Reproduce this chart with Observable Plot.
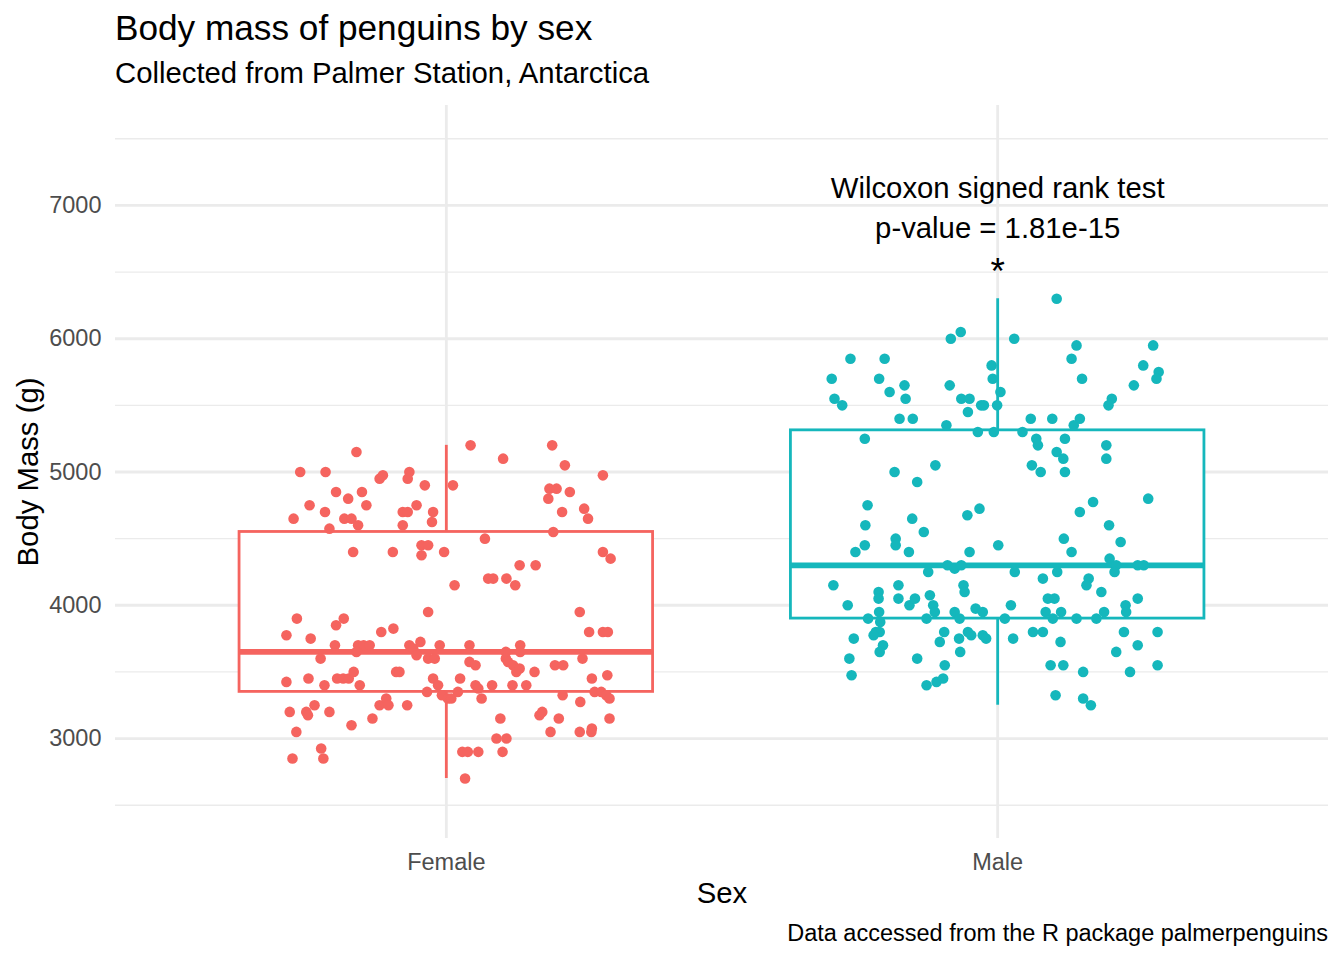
<!DOCTYPE html>
<html>
<head>
<meta charset="utf-8">
<script src="https://cdn.jsdelivr.net/npm/d3@7"></script>
<script src="https://cdn.jsdelivr.net/npm/@observablehq/plot@0.6"></script>
<style>
  html, body { margin: 0; padding: 0; background: #ffffff; }
  body { width: 1344px; height: 960px; position: relative; overflow: hidden;
         font-family: "Liberation Sans", Arial, Helvetica, sans-serif; }
  #title { position: absolute; left: 115px; top: 10px; font-size: 35.2px; line-height: 1; color: #000; white-space: nowrap; }
  #subtitle { position: absolute; left: 115px; top: 58px; font-size: 29.3px; line-height: 1; color: #000; white-space: nowrap; }
  #chart { position: absolute; left: 0; top: 95px; }
  #caption { position: absolute; right: 16px; top: 922px; font-size: 23.5px; line-height: 1; color: #000; white-space: nowrap; }
</style>
</head>
<body>
<div id="title">Body mass of penguins by sex</div>
<div id="subtitle">Collected from Palmer Station, Antarctica</div>
<div id="chart"></div>
<div id="caption">Data accessed from the R package palmerpenguins</div>
<script>
// ---- categories & colours ----
const sexes = ["Female", "Male"];
const sexColors = ["#F5645F", "#15B7BC"];

// ---- box summary values ----
const boxLower  = [2700, 3250];
const boxQ1     = [3350, 3900];
const boxMedian = [3650, 4300];
const boxQ3     = [4550, 5312.5];
const boxUpper  = [5200, 6300];

// ---- y gridline values ----
const yMajorTicks = [3000, 4000, 5000, 6000, 7000];
const yMinorTicks = [2500, 3500, 4500, 5500, 6500, 7500];

// ---- jittered observations: horizontal jitter (category units) and body mass (g) ----
const femaleJitter = [
  -0.163,-0.265,-0.219,-0.121,-0.115,-0.067,-0.070,-0.039,-0.200,-0.178,-0.153,-0.248,-0.220,-0.145,-0.277,-0.185,
  -0.172,-0.160,-0.212,-0.079,-0.070,-0.054,-0.079,-0.024,-0.026,-0.169,-0.097,-0.045,-0.033,-0.045,-0.004,
  0.044,0.192,0.103,0.215,0.284,0.012,0.187,0.200,0.185,0.224,0.210,0.250,0.257,0.194,0.070,0.284,0.298,0.133,
  0.162,0.015,0.076,0.085,0.109,0.125,0.242,
  -0.033,-0.271,-0.200,-0.186,-0.290,-0.246,-0.118,-0.096,-0.202,-0.160,-0.150,-0.139,-0.163,-0.228,-0.067,-0.060,
  -0.047,-0.054,-0.012,-0.033,-0.021,-0.290,-0.250,-0.221,-0.198,-0.187,-0.177,-0.168,-0.157,-0.091,-0.085,-0.024,
  -0.015,-0.035,-0.008,0.003,-0.284,-0.254,-0.251,-0.239,-0.212,-0.172,-0.134,-0.121,-0.109,-0.105,-0.071,-0.272,
  -0.227,-0.279,-0.223,
  0.259,0.284,0.293,0.042,0.108,0.134,0.134,0.042,0.053,0.108,0.112,0.121,0.127,0.133,0.160,0.247,0.197,0.212,
  0.025,0.053,0.058,0.064,0.009,0.021,0.083,0.120,0.145,0.264,0.292,0.269,0.281,0.290,0.296,0.211,0.243,0.169,
  0.174,0.204,0.098,0.189,0.242,0.263,0.264,0.296,0.091,0.109,0.102,0.029,0.039,0.058,0.034
];
const femaleMass = [
  5150,5000,5000,4950,4975,5000,4950,4900,4850,4800,4850,4750,4700,4750,4650,4650,
  4650,4600,4575,4700,4700,4750,4600,4700,4625,4400,4400,4450,4450,4375,4400,
  5200,5200,5100,5050,4975,4900,4875,4875,4800,4850,4700,4725,4650,4550,4500,4400,4350,4300,
  4300,4150,4200,4200,4200,4150,3950,
  3950,3900,3850,3900,3775,3750,3800,3825,3700,3700,3700,3700,3650,3600,3700,3675,
  3725,3625,3700,3600,3600,3425,3450,3400,3450,3450,3450,3500,3400,3500,3500,3450,
  3400,3350,3325,3300,3200,3200,3175,3250,3200,3100,3150,3250,3300,3250,3250,3050,
  2925,2850,2850,
  3800,3800,3800,3700,3650,3700,3650,3575,3550,3600,3575,3550,3500,3525,3500,3600,3550,3550,
  3450,3400,3375,3300,3300,3350,3400,3400,3400,3450,3475,3350,3350,3325,3300,3325,3275,3175,
  3200,3150,3150,3050,3050,3050,3075,3150,3000,3000,2900,2900,2900,2900,2700
];
const maleJitter = [
  -0.085,-0.067,-0.267,-0.205,-0.301,-0.215,-0.296,-0.282,-0.196,-0.169,-0.167,-0.178,-0.154,-0.087,-0.066,-0.051,
  -0.054,-0.030,-0.025,-0.093,-0.011,-0.009,0.005,-0.001,-0.241,-0.036,-0.007,-0.187,-0.113,-0.146,
  0.107,0.030,0.143,0.134,0.153,0.282,0.264,0.292,0.288,0.247,0.207,0.201,0.060,0.099,0.149,0.138,
  0.045,0.070,0.073,0.122,0.107,0.119,0.197,0.197,0.062,0.078,0.122,
  -0.236,-0.240,-0.258,-0.241,-0.155,-0.134,-0.185,-0.185,-0.161,-0.055,-0.033,-0.051,0.001,-0.091,-0.078,-0.066,
  -0.126,-0.298,-0.180,-0.216,-0.216,-0.180,-0.160,-0.150,-0.123,-0.117,-0.114,-0.062,-0.060,-0.272,-0.215,-0.235,
  -0.213,-0.129,-0.078,-0.069,-0.040,-0.027,-0.221,-0.214,-0.225,-0.261,-0.208,-0.214,-0.097,-0.105,-0.054,-0.048,
  -0.070,-0.027,-0.021,-0.068,-0.269,-0.146,-0.265,-0.096,-0.129,-0.111,-0.099,
  0.173,0.149,0.273,0.202,0.120,0.223,0.134,0.203,0.215,0.212,0.254,0.265,0.031,0.082,0.108,0.165,
  0.161,0.188,0.091,0.103,0.024,0.087,0.100,0.115,0.013,0.143,0.179,0.193,0.232,0.233,0.254,0.028,
  0.064,0.082,0.114,0.229,0.290,0.254,0.215,0.096,0.119,0.155,0.240,0.290,0.105,0.155,0.169
];
const maleMass = [
  6000,6050,5850,5850,5700,5700,5550,5500,5600,5650,5550,5400,5400,5650,5550,5550,
  5450,5500,5500,5350,5800,5700,5600,5500,5250,5300,5300,5000,5050,4925,
  6300,6000,5950,5850,5700,5950,5800,5750,5700,5650,5550,5500,5400,5400,5400,5350,
  5300,5250,5200,5250,5150,5100,5200,5100,5050,5000,5000,
  4750,4600,4400,4450,4650,4550,4500,4450,4400,4675,4725,4400,4450,4300,4275,4300,
  4250,4150,4150,4100,4050,4050,4000,4050,4075,4000,3950,4150,4100,4000,3950,3900,
  3875,3900,3950,3900,3975,3950,3800,3800,3775,3750,3700,3650,3800,3725,3800,3775,
  3750,3775,3750,3650,3600,3600,3475,3550,3400,3425,3450,
  4775,4700,4800,4600,4500,4475,4400,4350,4300,4250,4300,4300,4250,4200,4250,4200,
  4150,4100,4050,4050,4000,3950,3900,3950,3900,3900,3900,3950,4000,3950,4050,3750,
  3800,3800,3725,3800,3800,3700,3650,3550,3550,3500,3500,3550,3325,3300,3250
];

// ---- annotation ----
const testLabel = "Wilcoxon signed rank test\np-value = 1.81e-15";
const testLabelY = 7000;
const starLabel = "*";
const starY = 6500;

// ---- build tables ----
const points = [];
femaleMass.forEach((m, i) => points.push({sex: "Female", pos: 1 + femaleJitter[i], mass: m}));
maleMass.forEach((m, i) => points.push({sex: "Male", pos: 2 + maleJitter[i], mass: m}));

const boxes = sexes.map((s, i) => ({
  sex: s, pos: i + 1, lower: boxLower[i], q1: boxQ1[i], median: boxMedian[i], q3: boxQ3[i], upper: boxUpper[i]
}));
const halfBox = 0.375;
const grid = "#ebebeb";

const chart = Plot.plot({
  width: 1344,
  height: 820,
  marginTop: 10,
  marginBottom: 77,
  marginLeft: 115,
  marginRight: 16,
  style: {fontFamily: '"Liberation Sans", Arial, Helvetica, sans-serif', fontSize: "23.5px", color: "#4d4d4d", background: "#ffffff"},
  x: {domain: [0.4, 2.6]},
  y: {domain: [2250, 7750]},
  color: {domain: sexes, range: sexColors, legend: false},
  marks: [
    Plot.ruleY(yMinorTicks, {stroke: grid, strokeWidth: 1.4}),
    Plot.ruleY(yMajorTicks, {stroke: grid, strokeWidth: 2.8}),
    Plot.ruleX([1, 2], {stroke: grid, strokeWidth: 2.8}),
    Plot.ruleX(boxes, {x: "pos", y1: "q3", y2: "upper", stroke: "sex", strokeWidth: 2.8}),
    Plot.ruleX(boxes, {x: "pos", y1: "lower", y2: "q1", stroke: "sex", strokeWidth: 2.8}),
    Plot.rect(boxes, {x1: d => d.pos - halfBox, x2: d => d.pos + halfBox, y1: "q1", y2: "q3",
      fill: "#ffffff", stroke: "sex", strokeWidth: 2.8}),
    Plot.ruleY(boxes, {y: "median", x1: d => d.pos - halfBox, x2: d => d.pos + halfBox, stroke: "sex", strokeWidth: 5.7}),
    Plot.dot(points, {x: "pos", y: "mass", fill: "sex", r: 5.3, stroke: null}),
    Plot.text([{x: 2, y: testLabelY, t: testLabel}], {x: "x", y: "y", text: "t", fontSize: 29.3, lineHeight: 1.37,
      fill: "#000000", textAnchor: "middle", lineAnchor: "middle"}),
    Plot.text([{x: 2, y: starY, t: starLabel}], {x: "x", y: "y", text: "t", fontSize: 37,
      fill: "#000000", textAnchor: "middle", lineAnchor: "middle"}),
    Plot.axisY({ticks: yMajorTicks, tickSize: 0, tickPadding: 14, label: null, tickFormat: d => String(d)}),
    Plot.axisX({ticks: [1, 2], tickSize: 0, tickPadding: 15, label: null, tickFormat: d => sexes[d - 1]}),
    Plot.text(["Sex"], {frameAnchor: "bottom", dy: 55.6, fontSize: 29.3, fill: "#000000",
      textAnchor: "middle", lineAnchor: "middle"}),
    Plot.text(["Body Mass (g)"], {frameAnchor: "left", dx: -87, rotate: -90, fontSize: 29.3, fill: "#000000",
      textAnchor: "middle", lineAnchor: "middle"})
  ]
});
document.getElementById("chart").appendChild(chart);
</script>
</body>
</html>
